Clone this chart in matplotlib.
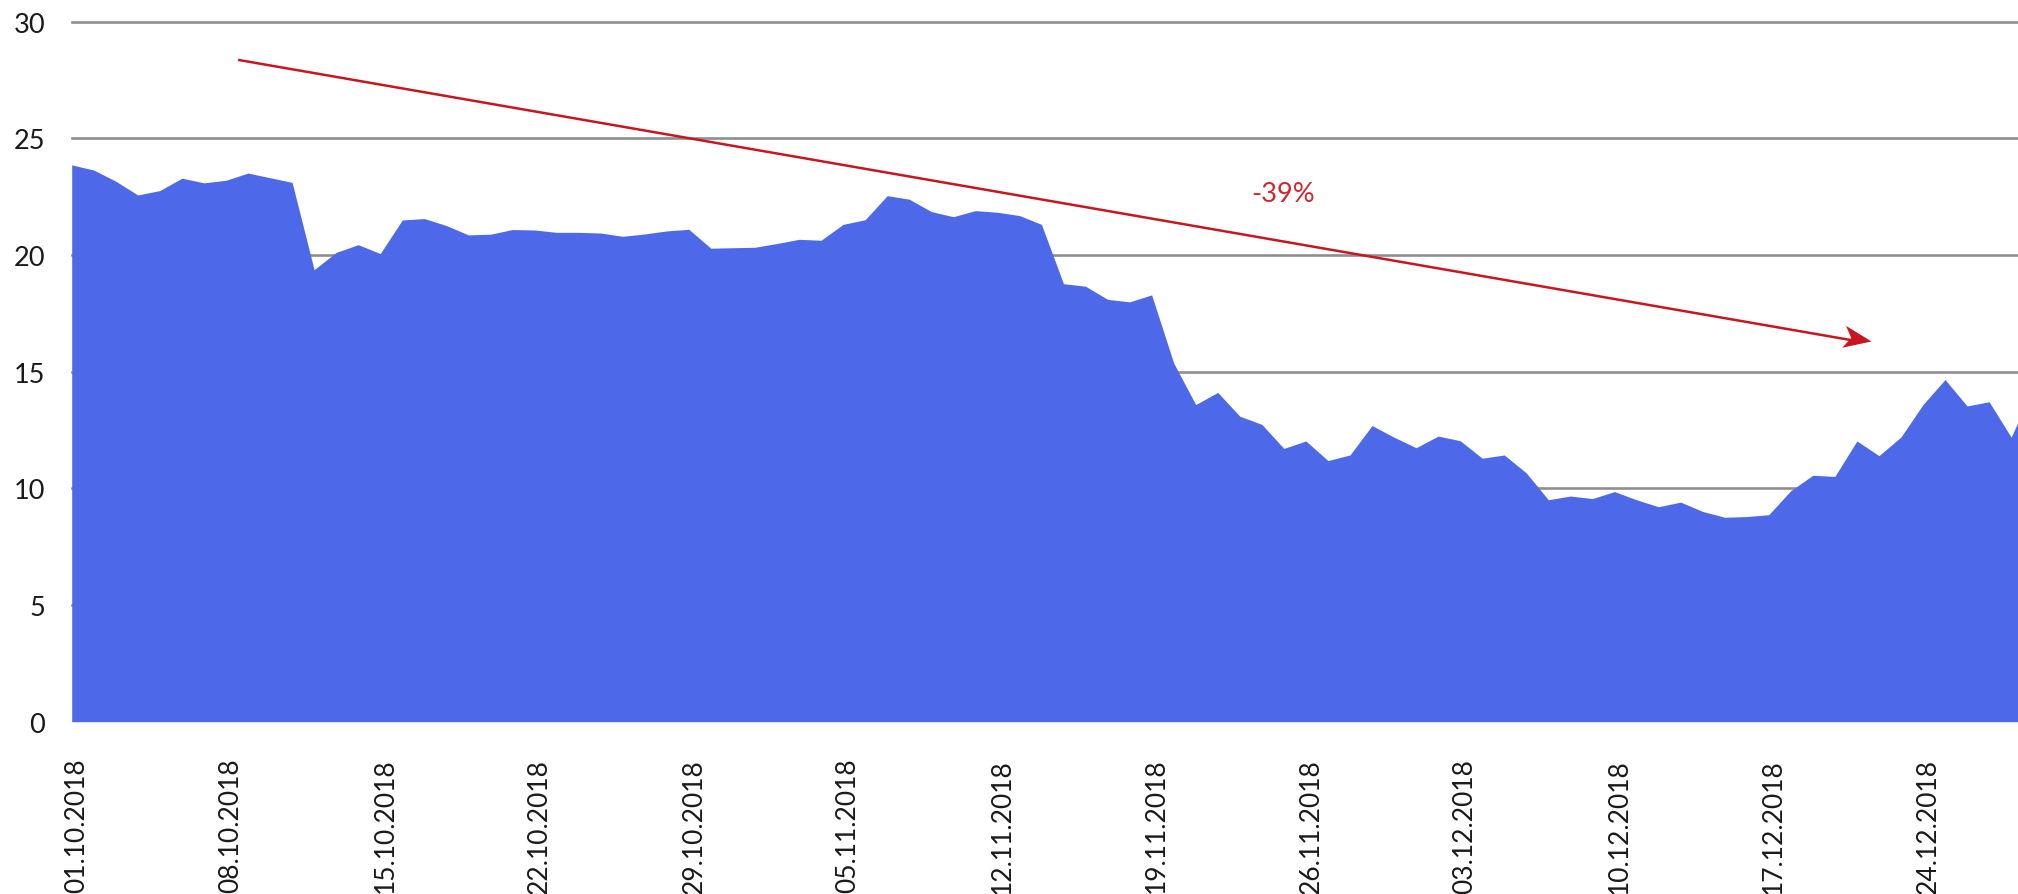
import matplotlib
matplotlib.use('Agg')
import matplotlib.pyplot as plt
import numpy as np
import pandas as pd
from matplotlib.path import Path
from matplotlib.markers import MarkerStyle
from matplotlib.transforms import Affine2D, ScaledTranslation

plt.rcParams['font.family'] = ['Lato', 'DejaVu Sans']
plt.rcParams['font.weight'] = 'normal'

# ---- data ----
start_date = '2018-10-01'
values = [
    23.86, 23.64, 23.16, 22.57, 22.76, 23.29, 23.09, 23.20, 23.51, 23.31,
    23.11, 19.37, 20.11, 20.44, 20.06, 21.50, 21.56, 21.26, 20.86, 20.89,
    21.09, 21.07, 20.97, 20.97, 20.94, 20.80, 20.90, 21.03, 21.10, 20.29,
    20.31, 20.33, 20.49, 20.67, 20.63, 21.31, 21.51, 22.54, 22.39, 21.86,
    21.64, 21.90, 21.83, 21.69, 21.31, 18.77, 18.66, 18.10, 17.99, 18.29,
    15.37, 13.59, 14.11, 13.09, 12.74, 11.71, 12.03, 11.19, 11.43, 12.69,
    12.19, 11.74, 12.24, 12.04, 11.29, 11.43, 10.66, 9.51, 9.67, 9.56,
    9.86, 9.51, 9.21, 9.41, 9.01, 8.76, 8.79, 8.87, 9.90, 10.56,
    10.51, 12.03, 11.40, 12.20, 13.59, 14.66, 13.53, 13.71, 12.19, 14.30,
]
dates = pd.date_range(start_date, periods=len(values))
tick_labels = [d.strftime('%d.%m.%Y') for d in dates[::7]]
y_ticks = [0, 5, 10, 15, 20, 25, 30]

# trend arrow (day index, value)
trend_start = (7.55, 28.36)
trend_end = (81.64, 16.30)
trend_label = '-39%'
trend_label_pos = (54.96, 22.64)

# ---- figure ----
W, H = 2018, 895
fig = plt.figure(figsize=(W / 100, H / 100), dpi=100)
left, bottom_px, top_px = 71.7, 722.7, 22.6
ax = fig.add_axes([left / W, 1 - bottom_px / H, 1 - left / W, (bottom_px - top_px) / H])

x = np.arange(len(values))
ax.fill_between(x, values, 0, color='#4d69ea', lw=0, zorder=2)
ax.set_xlim(0, 88.31)
ax.set_ylim(0, 30)

for yv in y_ticks[1:]:
    ax.axhline(yv, color='#8e8e8e', lw=1.9, zorder=1, clip_on=False)

for s in ax.spines.values():
    s.set_visible(False)

ax.set_yticks(y_ticks)
ax.set_yticklabels([str(v) for v in y_ticks])
ax.tick_params(axis='y', length=0, pad=19, labelsize=19.5, labelcolor='#1a1a1a')

ax.set_xticks(x[::7])
ax.set_xticklabels(tick_labels, rotation=90, va='top', ha='center')
ax.tick_params(axis='x', length=0, pad=26, labelsize=19, labelcolor='#1a1a1a')
off = ScaledTranslation(5 / 100, 0, fig.dpi_scale_trans)
for lab in ax.get_xticklabels():
    lab.set_transform(lab.get_transform() + off)

# trend arrow
red = '#c8161e'
ax.plot([trend_start[0], trend_end[0] - 0.8], [trend_start[1], trend_end[1] + 0.035],
        color=red, lw=1.8, zorder=4, solid_capstyle='butt')
p0 = ax.transData.transform(trend_start)
p1 = ax.transData.transform(trend_end)
ang = np.degrees(np.arctan2(p1[1] - p0[1], p1[0] - p0[0]))
head = Path([(0, 0), (-1, 0.40), (-0.74, 0), (-1, -0.40), (0, 0)],
            [Path.MOVETO, Path.LINETO, Path.LINETO, Path.LINETO, Path.CLOSEPOLY])
ms = MarkerStyle(head, transform=Affine2D().rotate_deg(ang))
ax.plot([trend_end[0]], [trend_end[1]], marker=ms, markersize=40, color=red,
        markeredgewidth=0, linestyle='none', zorder=5)

ax.text(trend_label_pos[0], trend_label_pos[1], trend_label, color='#d2262d',
        fontsize=19.5, ha='center', va='center', zorder=5)

fig.savefig('out.png', dpi=100)
